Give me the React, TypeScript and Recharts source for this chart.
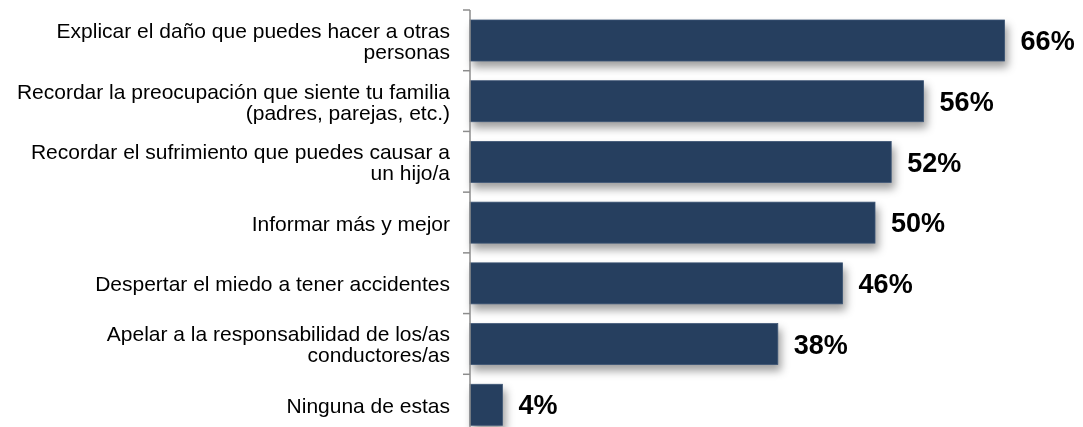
import React from "react";
import { BarChart, Bar, XAxis, YAxis, LabelList } from "recharts";

const categories = [
  "Explicar el daño que puedes hacer a otras\npersonas",
  "Recordar la preocupación que siente tu familia\n(padres, parejas, etc.)",
  "Recordar el sufrimiento que puedes causar a\nun hijo/a",
  "Informar más y mejor",
  "Despertar el miedo a tener accidentes",
  "Apelar a la responsabilidad de los/as\nconductores/as",
  "Ninguna de estas",
];

const percentages = [66, 56, 52, 50, 46, 38, 4];

const data = categories.map((name, i) => ({ name, value: percentages[i] }));

const FONT = "'Liberation Sans', Arial, sans-serif";
const BAR_COLOR = "#263f5f";
const AXIS_COLOR = "#8c8c8c";

const CategoryTick = (props: any) => {
  const { x, y, payload, height } = props;
  const lines = String(payload.value).split("\n");
  const half = payload.offset ?? height / (categories.length * 2);
  const lineH = 21;
  const startY = y - ((lines.length - 1) * lineH) / 2;
  return (
    <g>
      <line
        x1={x + 13}
        x2={x + 20}
        y1={y - half}
        y2={y - half}
        stroke={AXIS_COLOR}
        strokeWidth={1.5}
      />
      <text
        x={x}
        y={startY}
        textAnchor="end"
        dominantBaseline="central"
        fontSize={21}
        fontFamily={FONT}
        fill="#000"
      >
        {lines.map((l, i) => (
          <tspan key={i} x={x} y={startY + i * lineH}>
            {l}
          </tspan>
        ))}
      </text>
    </g>
  );
};

const ShadowBar = (props: any) => {
  const { x, y, width, height } = props;
  return (
    <rect
      x={x}
      y={y}
      width={width}
      height={height}
      fill={BAR_COLOR}
      stroke="#3d5575"
      strokeWidth={0.8}
      style={{ filter: "drop-shadow(3px 6px 4px rgba(0,0,0,0.38))" }}
    />
  );
};

export default function App() {
  return (
    <div
      style={{
        position: "fixed",
        top: 8,
        left: 8,
        width: 1075,
        height: 419,
        overflow: "hidden",
      }}
    >
      <BarChart
        width={1075}
        height={427}
        data={data}
        layout="vertical"
        margin={{ top: 2, right: 46, bottom: 0, left: 0 }}
      >
        <XAxis type="number" domain={[0, 70]} hide />
        <YAxis
          type="category"
          dataKey="name"
          width={462}
          axisLine={{ stroke: AXIS_COLOR, strokeWidth: 1.5 }}
          tickLine={false}
          tickSize={7}
          tickMargin={13}
          tick={<CategoryTick />}
          interval={0}
        />
        <Bar
          dataKey="value"
          barSize={41}
          fill={BAR_COLOR}
          shape={<ShadowBar />}
          isAnimationActive={false}
        >
          <LabelList
            dataKey="value"
            position="right"
            offset={16}
            formatter={(v: any) => `${v}%`}
            fill="#000"
            fontSize={27}
            fontWeight="bold"
            fontFamily={FONT}
          />
        </Bar>
      </BarChart>
    </div>
  );
}
